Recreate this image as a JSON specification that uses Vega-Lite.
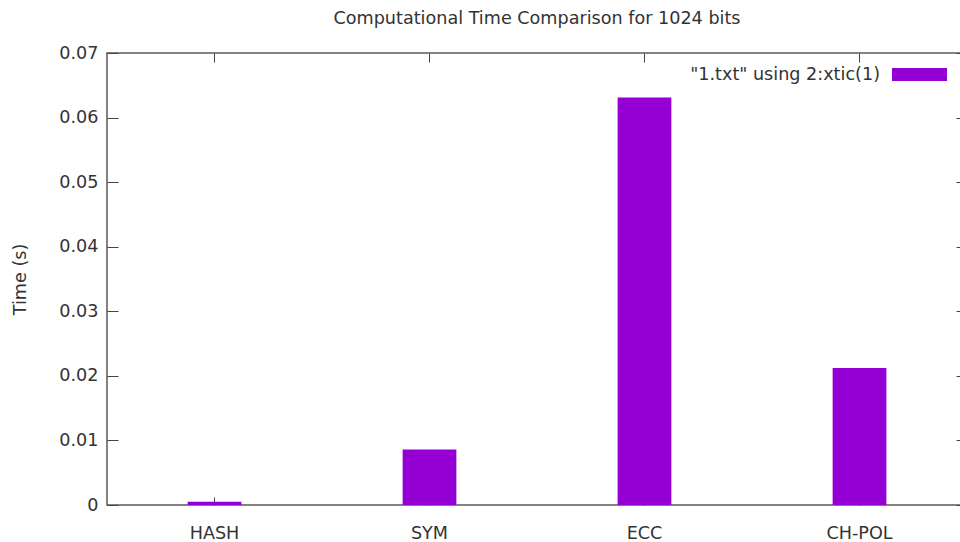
{
  "$schema": "https://vega.github.io/schema/vega-lite/v6.json",
  "width": 860,
  "height": 452,
  "autosize": {"type": "none"},
  "padding": {"left": 107, "top": 53, "right": 0, "bottom": 37},
  "background": "white",
  "title": {
    "text": "Computational Time Comparison for 1024 bits",
    "font": "DejaVu Sans",
    "fontSize": 17.6,
    "fontWeight": "normal",
    "color": "#333333",
    "anchor": "middle",
    "frame": "group",
    "baseline": "alphabetic",
    "offset": 2
  },
  "data": {
    "values": [
      {"algo": "HASH", "time": 0.0005, "series": "\"1.txt\" using 2:xtic(1)"},
      {"algo": "SYM", "time": 0.0086, "series": "\"1.txt\" using 2:xtic(1)"},
      {"algo": "ECC", "time": 0.0631, "series": "\"1.txt\" using 2:xtic(1)"},
      {"algo": "CH-POL", "time": 0.0212, "series": "\"1.txt\" using 2:xtic(1)"}
    ]
  },
  "layer": [
    {
      "mark": {"type": "bar", "width": {"band": 0.25}},
      "encoding": {
        "x": {
          "field": "algo",
          "type": "nominal",
          "sort": null,
          "scale": {"paddingInner": 0, "paddingOuter": 0},
          "axis": {"orient": "bottom", "title": null, "labelAngle": 0, "tickSize": -8, "labelPadding": 36, "labelBaseline": "middle"}
        },
        "y": {
          "field": "time",
          "type": "quantitative",
          "scale": {"domain": [0, 0.07], "nice": false},
          "axis": {"orient": "left", "title": "Time (s)", "values": [0, 0.01, 0.02, 0.03, 0.04, 0.05, 0.06, 0.07], "format": ".2~f", "tickSize": -11, "labelPadding": 20, "titlePadding": 29}
        },
        "color": {
          "field": "series",
          "type": "nominal",
          "scale": {"range": ["#9400D3"]},
          "legend": {
            "title": null,
            "orient": "none",
            "legendX": 785,
            "legendY": -6,
            "padding": 0,
            "symbolType": "M-1,-0.236H1V0.236H-1Z",
            "symbolSize": 3025,
            "symbolStrokeWidth": 0,
            "symbolOpacity": 1,
            "labelAlign": "right",
            "labelOffset": -67,
            "labelFont": "DejaVu Sans",
            "labelFontSize": 17.6,
            "labelColor": "#333333",
            "labelLimit": 400
          }
        }
      }
    },
    {
      "mark": {"type": "bar", "opacity": 0, "width": {"band": 0.25}},
      "encoding": {
        "x": {
          "field": "algo",
          "type": "nominal",
          "sort": null,
          "axis": {"orient": "top", "title": null, "labels": false, "tickSize": -9}
        },
        "y": {
          "field": "time",
          "type": "quantitative",
          "axis": {"orient": "right", "title": null, "labels": false, "values": [0, 0.01, 0.02, 0.03, 0.04, 0.05, 0.06, 0.07], "tickSize": -11}
        }
      }
    }
  ],
  "resolve": {"axis": {"x": "independent", "y": "independent"}},
  "config": {
    "view": {"stroke": "#5a5a5a", "strokeWidth": 1.5},
    "axis": {
      "domain": false,
      "grid": false,
      "labelFont": "DejaVu Sans",
      "labelFontSize": 17.6,
      "labelColor": "#333333",
      "tickColor": "#444444",
      "tickWidth": 1,
      "titleFont": "DejaVu Sans",
      "titleFontSize": 17.6,
      "titleFontWeight": "normal",
      "titleColor": "#333333"
    }
  }
}
